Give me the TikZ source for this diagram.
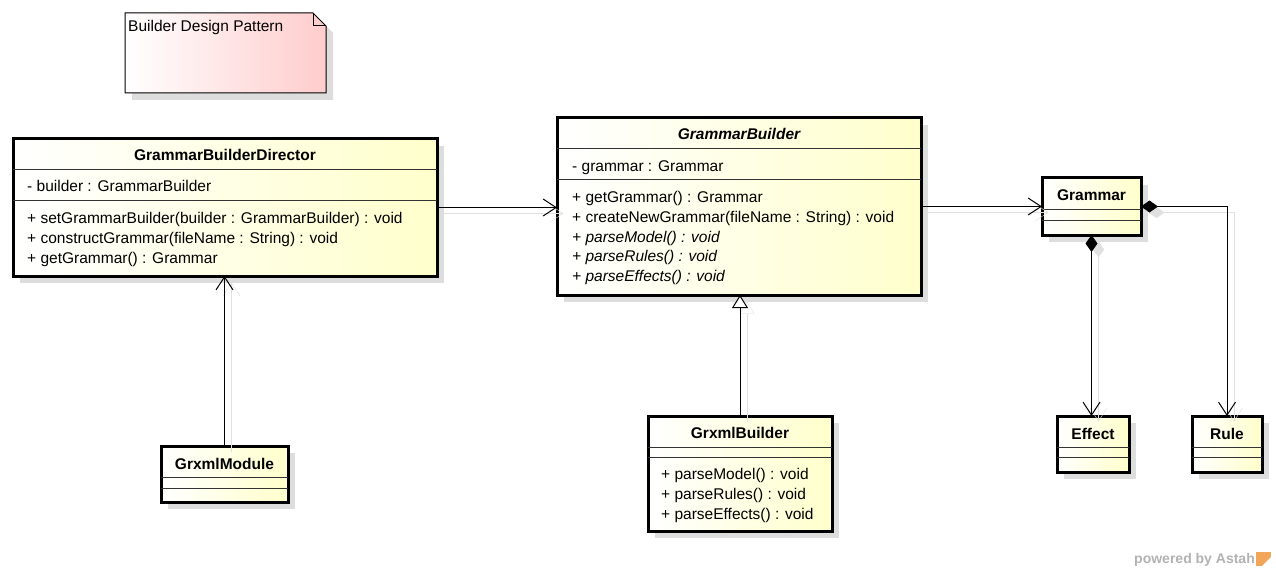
\documentclass[tikz,border=0pt]{standalone}
\usepackage{fontspec}
\setmainfont{Liberation Sans}
\usetikzlibrary{arrows.meta,shadows}
\definecolor{classyellow}{HTML}{FFFFCC}
\definecolor{notepink}{HTML}{FFCCCC}
\definecolor{shadowgray}{HTML}{DDDDDD}
\definecolor{linkshadow}{HTML}{E0E0E0}
\definecolor{astahorange}{HTML}{F2A65A}
\newcommand{\umlfont}{\fontsize{15.5pt}{20pt}\selectfont}
\tikzset{
  umlclass/.style={draw, line width=3pt, left color=white, right color=classyellow,
    anchor=north west, inner sep=0pt, outer sep=0pt,
    drop shadow={shadow xshift=7pt, shadow yshift=-7pt, fill=shadowgray, opacity=1}},
  classname/.style={anchor=base, inner sep=0pt, font=\umlfont\bfseries},
  member/.style={anchor=base west, inner sep=0pt, font=\umlfont},
  compline/.style={line width=1pt, black!80},
  link/.style={line width=1pt, preaction={draw=linkshadow, transform canvas={xshift=7pt,yshift=-6pt}}},
  assoc/.style={link, -{Straight Barb[length=13pt,width=17pt]}},
  realize/.style={link, -{Triangle[length=13pt,width=16pt,fill=white]}},
  compose/.style={link, {Diamond[length=17pt,width=12pt]}-{Straight Barb[length=13pt,width=17pt]}}
}
\begin{document}
\begin{tikzpicture}[x=1pt,y=-1pt]
 \useasboundingbox (0,0) rectangle (1276,572);
 % note
 \shade [left color=white,right color=notepink,draw=black,line width=1pt,
   drop shadow={shadow xshift=7pt,shadow yshift=-7pt,fill=shadowgray,opacity=1}]
   (125,13) -- (313,13) -- (326,26) -- (326,93) -- (125,93) -- cycle;
 \draw [line width=1pt] (313,13) -- (313,26) -- (326,26);
 \node [member] (notetext) at (128,31.5) {Builder Design Pattern};
 % GrammarBuilderDirector
 \node [umlclass,minimum width=424pt,minimum height=137pt] (director) at (13,139) {};
 \draw [compline] (13,170) -- (437,170);
 \draw [compline] (13,200) -- (437,200);
 \node [classname] (director-name) at (225,161) {GrammarBuilderDirector};
 \node [member] (director-a1) at (27,192) {- builder : GrammarBuilder};
 \node [member] (director-m1) at (27,223) {+ setGrammarBuilder(builder : GrammarBuilder) : void};
 \node [member] (director-m2) at (27,243) {+ constructGrammar(fileName : String) : void};
 \node [member] (director-m3) at (27,263) {+ getGrammar() : Grammar};
 % GrammarBuilder
 \node [umlclass,minimum width=364pt,minimum height=177pt] (builder) at (557,118) {};
 \draw [compline] (557,149) -- (921,149);
 \draw [compline] (557,180) -- (921,180);
 \node [classname,font=\umlfont\bfseries\itshape] (builder-name) at (739,140) {GrammarBuilder};
 \node [member] (builder-a1) at (572,172) {- grammar : Grammar};
 \node [member] (builder-m1) at (572,202.5) {+ getGrammar() : Grammar};
 \node [member] (builder-m2) at (572,222.5) {+ createNewGrammar(fileName : String) : void};
 \node [member,font=\umlfont\itshape] (builder-m3) at (572,242) {+ parseModel() : void};
 \node [member,font=\umlfont\itshape] (builder-m4) at (572,261.5) {+ parseRules() : void};
 \node [member,font=\umlfont\itshape] (builder-m5) at (572,281) {+ parseEffects() : void};
 % GrxmlBuilder
 \node [umlclass,minimum width=184pt,minimum height=115pt] (gxbuilder) at (648,416) {};
 \draw [compline] (648,447) -- (832,447);
 \draw [compline] (648,457) -- (832,457);
 \node [classname] (gxbuilder-name) at (740,438.5) {GrxmlBuilder};
 \node [member] (gxbuilder-m1) at (661,479) {+ parseModel() : void};
 \node [member] (gxbuilder-m2) at (661,499) {+ parseRules() : void};
 \node [member] (gxbuilder-m3) at (661,519) {+ parseEffects() : void};
 % GrxmlModule
 \node [umlclass,minimum width=127pt,minimum height=56pt] (module) at (161,446) {};
 \draw [compline] (161,477.5) -- (288,477.5);
 \draw [compline] (161,488) -- (288,488);
 \node [classname] (module-name) at (224.5,469) {GrxmlModule};
 % Grammar, Effect, Rule
 \node [umlclass,minimum width=99pt,minimum height=57pt] (grammar) at (1042,178) {};
 \draw [compline] (1042,209.5) -- (1141,209.5);
 \draw [compline] (1042,220.5) -- (1141,220.5);
 \node [classname] (grammar-name) at (1091.5,200.5) {Grammar};
 \node [umlclass,minimum width=72pt,minimum height=56pt] (effect) at (1057,416) {};
 \draw [compline] (1057,447.5) -- (1129,447.5);
 \draw [compline] (1057,457.5) -- (1129,457.5);
 \node [classname] (effect-name) at (1093,439) {Effect};
 \node [umlclass,minimum width=70pt,minimum height=56pt] (rule) at (1192,416) {};
 \draw [compline] (1192,447.5) -- (1262,447.5);
 \draw [compline] (1192,457.5) -- (1262,457.5);
 \node [classname] (rule-name) at (1227,439) {Rule};
 % connectors
 \draw [assoc] (director.east) -- (builder.west |- director.east);
 \draw [assoc] (builder.east) -- (grammar.west |- builder.east);
 \draw [assoc] (module.north) -- (director.south -| module.north);
 \draw [realize] (gxbuilder.north) -- (builder.south -| gxbuilder.north);
 \draw [compose] (grammar.south) -- (effect.north -| grammar.south);
 \draw [compose] (grammar.east) -| (rule.north);
 % watermark
 \node [anchor=base east,inner sep=0pt,font=\fontsize{14pt}{14pt}\selectfont\bfseries,text=black!30] (poweredby) at (1255,563) {powered by Astah};
 \fill [astahorange] (1256,552) rectangle (1271,566);
 \fill [white] (1262,566) -- (1271,557) -- (1271,566) -- cycle;
\end{tikzpicture}
\end{document}
